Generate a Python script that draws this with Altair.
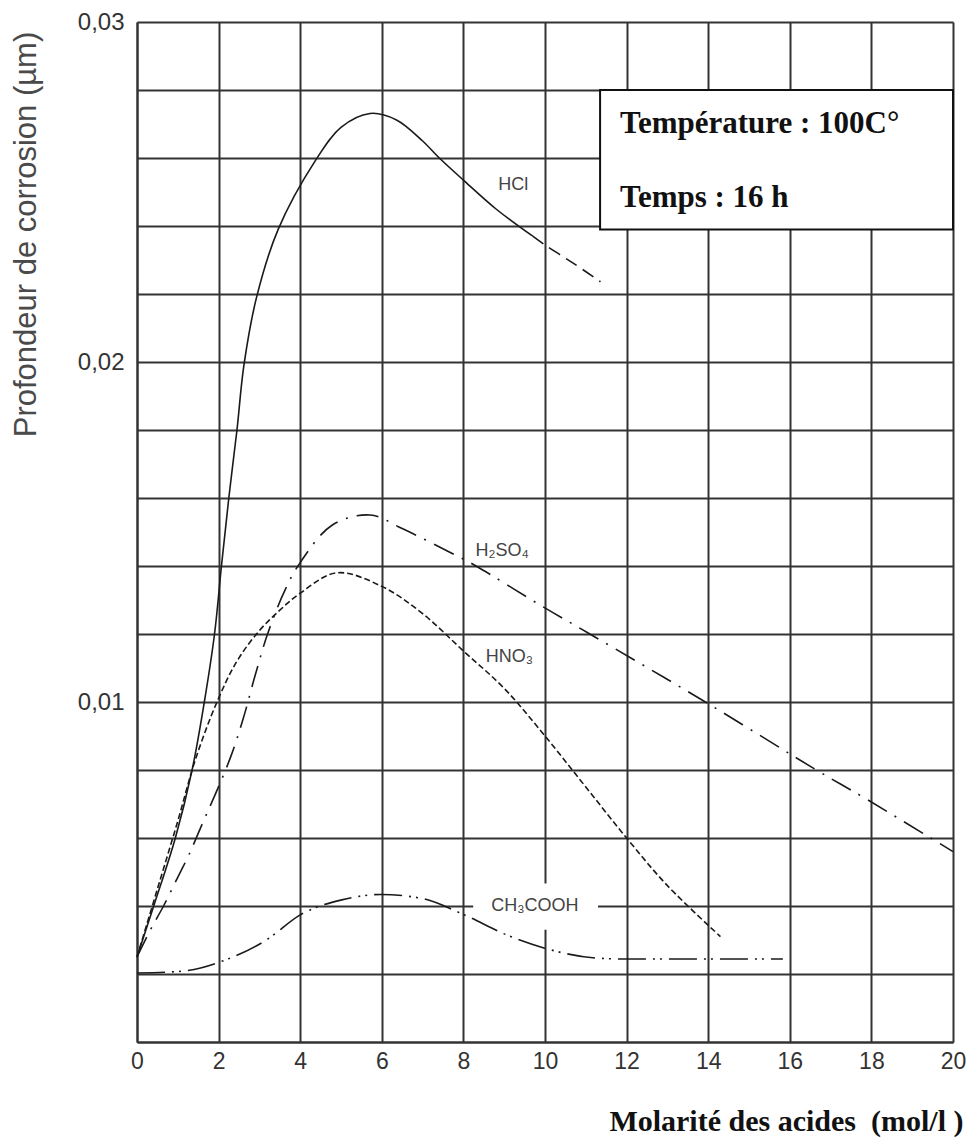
import altair as alt
import pandas as pd

# ---- data ----
hcl_x = [0, 0.41, 0.94, 1.35, 1.65, 1.9, 2.07, 2.25, 2.45, 2.62, 2.93, 3.46, 4.36, 5.0, 5.71, 6.36, 7.0, 7.41, 8.0, 8.8, 9.7]
hcl_y = [0.0025, 0.0040, 0.0060, 0.0080, 0.0100, 0.0120, 0.0140, 0.0160, 0.0180, 0.0199, 0.0219, 0.0239,
         0.0259, 0.0269, 0.02731, 0.02712, 0.0265, 0.0260, 0.02535, 0.0245, 0.0237]

hcl_ext_x = [9.7, 10.0, 10.7, 11.36]
hcl_ext_y = [0.0237, 0.02344, 0.0229, 0.02236]

h2so4_x = [0, 0.33, 0.65, 0.98, 1.27, 1.63, 1.96, 2.3, 2.6, 2.9, 3.2, 3.63, 4.0, 4.78, 5.71, 6.5,
           7.84, 8.31, 9.95, 11.1, 14.0, 16.65, 17.8, 20.0]
h2so4_y = [0.0025, 0.0033, 0.0040, 0.0048, 0.0055, 0.0065, 0.0074, 0.0084, 0.0095, 0.0108, 0.0120, 0.0133,
           0.0141, 0.0152, 0.0155, 0.0151, 0.0143, 0.0140, 0.0128, 0.0120, 0.00995, 0.0080, 0.0072, 0.0056]

hno3_x = [0, 0.5, 1.0, 1.43, 1.96, 2.45, 3.0, 3.5, 4.0, 4.9, 6.0, 7.0, 8.0, 9.0, 10.0, 11.0, 12.0, 13.0, 14.3]
hno3_y = [0.0025, 0.0045, 0.0065, 0.0083, 0.0100, 0.0112, 0.0121, 0.0127, 0.0132, 0.0138, 0.0134, 0.0126,
          0.0115, 0.0104, 0.0090, 0.0075, 0.0060, 0.0046, 0.0031]

ch3cooh_x = [0, 1.09, 2.18, 3.17, 4.0, 5.02, 5.98, 6.99, 8.02, 9.06, 9.99, 11.24, 12.0, 15.83]
ch3cooh_y = [0.00203, 0.00208, 0.00242, 0.0030, 0.00374, 0.00418, 0.00434, 0.00422, 0.00374, 0.00315,
             0.00276, 0.00247, 0.00244, 0.00244]

label_text = ["HCl", "H\u2082SO\u2084", "HNO\u2083", "CH\u2083COOH"]
label_x = [9.22, 8.95, 9.13, 9.75]
label_y = [0.0252, 0.01445, 0.01133, 0.0040]

mask_x, mask_x2 = [8.24], [11.3]
mask_y, mask_y2 = [0.0033], [0.00466]

box_x, box_x2 = [11.35], [20.0]
box_y, box_y2 = [0.0239], [0.0280]

info_text = ["Température : 100C°", "Temps : 16 h"]
info_x = [11.84, 11.84]
info_y = [0.02674, 0.02456]

x_ticks = [0, 2, 4, 6, 8, 10, 12, 14, 16, 18, 20]
y_ticks = [0, 0.002, 0.004, 0.006, 0.008, 0.010, 0.012, 0.014, 0.016, 0.018, 0.020,
           0.022, 0.024, 0.026, 0.028, 0.030]

# ---- scales / axes ----
xs = alt.Scale(domain=[0, 20], nice=False, zero=False)
ys = alt.Scale(domain=[0, 0.03], nice=False, zero=False)

GRID = "#333333"

xaxis = alt.Axis(
    values=x_ticks, format="d", grid=True, gridColor=GRID, gridWidth=2, gridOpacity=1,
    domainColor=GRID, domainWidth=2, ticks=False, labelFlush=False,
    labelFont="Liberation Sans", labelFontSize=23, labelColor="#333333", labelPadding=8,
    title="Molarité des acides \u00a0(mol/l )", titleFont="Liberation Serif", titleFontWeight="bold",
    titleFontSize=30, titleColor="#111111", titleAnchor="end", titleAlign="right",
    titleBaseline="alphabetic", titleX=826, titleY=88,
)
yaxis = alt.Axis(
    values=y_ticks, grid=True, gridColor=GRID, gridWidth=2, gridOpacity=1,
    domainColor=GRID, domainWidth=2, ticks=False, labelFlush=False,
    labelExpr="(datum.value > 0.001 && abs(datum.value*100 - round(datum.value*100)) < 1e-6) ? replace(format(datum.value, '.2f'), '.', ',') : ''",
    labelFont="Liberation Sans", labelFontSize=24, labelColor="#333333", labelPadding=13,
    title="Profondeur de corrosion (µm)", titleFont="Liberation Sans", titleFontWeight="normal",
    titleFontSize=31, titleColor="#4a4a4a", titleAngle=270, titleAlign="center",
    titleBaseline="middle", titleX=-111, titleY=212,
)

X = alt.X("x:Q", scale=xs, axis=xaxis)
Y = alt.Y("y:Q", scale=ys, axis=yaxis)


def line(xv, yv, dash, width=1.6, interp="catmull-rom"):
    df = pd.DataFrame({"x": xv, "y": yv})
    kw = dict(color="#1a1a1a", strokeWidth=width, interpolate=interp, strokeCap="butt")
    if dash:
        kw["strokeDash"] = dash
    return alt.Chart(df).mark_line(**kw).encode(x=X, y=Y, order=alt.Order("x:Q"))


mask = alt.Chart(pd.DataFrame({"x": mask_x, "x2": mask_x2, "y": mask_y, "y2": mask_y2})).mark_rect(
    fill="white", stroke="white", strokeWidth=0
).encode(x=X, x2="x2:Q", y=Y, y2="y2:Q")

hcl = line(hcl_x, hcl_y, None)
hcl_ext = line(hcl_ext_x, hcl_ext_y, [13, 7])
h2so4 = line(h2so4_x, h2so4_y, [22, 9, 2, 9])
hno3 = line(hno3_x, hno3_y, [6, 3])
ch3cooh = line(ch3cooh_x, ch3cooh_y, [28, 7, 2, 5, 2, 7], interp="monotone")

labels = alt.Chart(pd.DataFrame({"x": label_x, "y": label_y, "t": label_text})).mark_text(
    font="Liberation Sans", fontSize=18, color="#444444", align="center", baseline="middle"
).encode(x=X, y=Y, text="t:N")

box = alt.Chart(pd.DataFrame({"x": box_x, "x2": box_x2, "y": box_y, "y2": box_y2})).mark_rect(
    fill="white", stroke="#111111", strokeWidth=2
).encode(x=X, x2="x2:Q", y=Y, y2="y2:Q")

info = alt.Chart(pd.DataFrame({"x": info_x, "y": info_y, "t": info_text})).mark_text(
    font="Liberation Serif", fontWeight="bold", fontSize=31, color="#111111",
    align="left", baseline="alphabetic"
).encode(x=X, y=Y, text="t:N")

chart = alt.layer(mask, hcl, hcl_ext, h2so4, hno3, ch3cooh, labels, box, info).properties(
    width=816, height=1020,
    autosize=alt.AutoSizeParams(type="none"),
    padding={"left": 129, "top": 14, "right": 13, "bottom": 99},
    background="white",
).configure_view(strokeWidth=0)

chart.save("out.html", embed_options={"renderer": "svg", "actions": False})
